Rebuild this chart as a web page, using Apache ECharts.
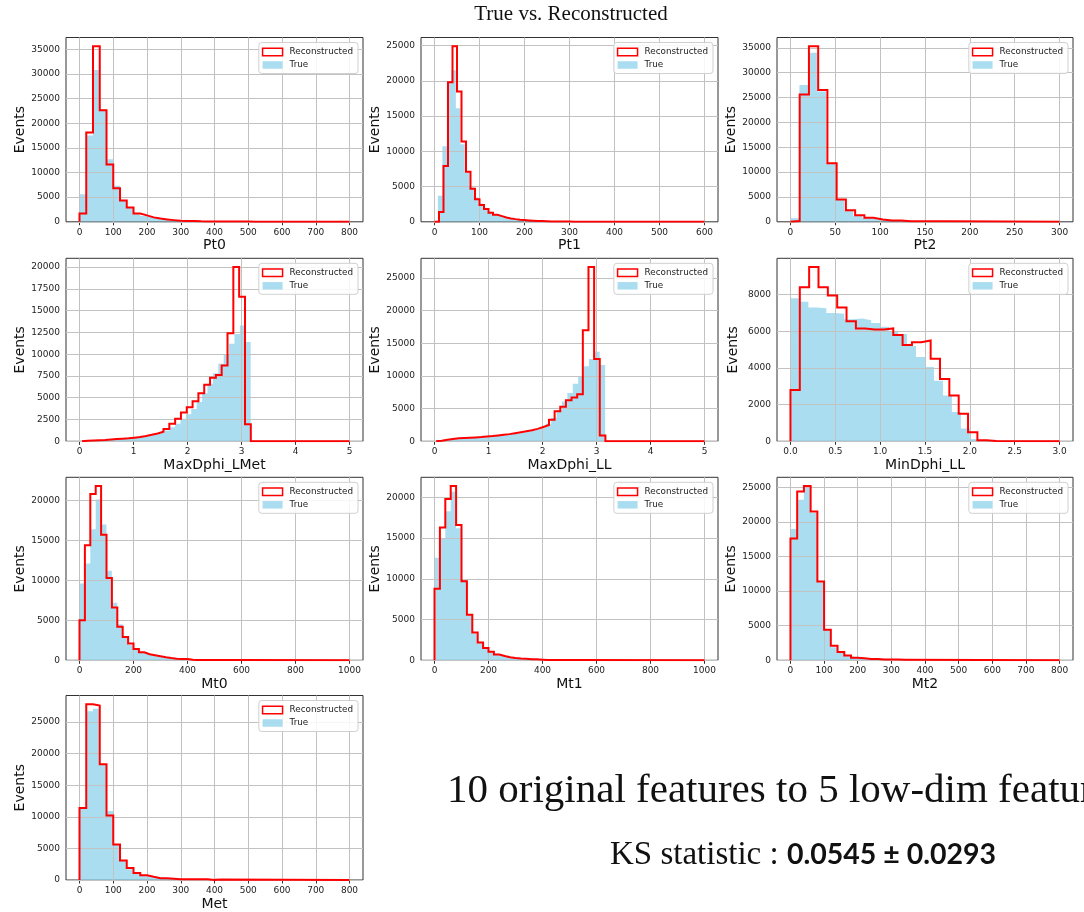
<!DOCTYPE html>
<html>
<head>
<meta charset="utf-8">
<script src="https://cdn.jsdelivr.net/npm/echarts@6/dist/echarts.min.js"></script>
<style>
  html, body { margin: 0; padding: 0; background: #ffffff; }
  #chart { width: 1084px; height: 912px; }
</style>
</head>
<body>
<div id="chart"></div>
<script>
// ---- feature names (x-axis titles) ----
const featureNames = ['Pt0', 'Pt1', 'Pt2', 'MaxDphi_LMet', 'MaxDphi_LL', 'MinDphi_LL', 'Mt0', 'Mt1', 'Mt2', 'Met'];

// ---- histogram counts: true sample (filled bars) ----
const pt0True = [5600, 17500, 30800, 22800, 12700, 7300, 4400, 2800, 1700, 1200, 850, 600, 430, 300, 220, 160, 120, 90, 70, 50, 40, 30, 22, 16, 12, 8, 5, 3, 2, 1];
const pt1True = [3700, 10700, 19800, 21500, 16100, 11000, 7000, 4900, 3500, 2600, 1900, 1450, 1100, 850, 650, 500, 400, 320, 250, 200, 160, 130, 100, 80, 60, 50, 40, 30, 25, 20, 15, 10];
const pt2True = [700, 27500, 34000, 26200, 11700, 4600, 2200, 1200, 750, 450, 300, 200, 140, 100, 70, 50, 35, 25, 18, 12, 8, 5, 3, 2, 1];
const maxDphiLMetTrue = [30, 50, 80, 110, 150, 190, 230, 280, 340, 400, 480, 580, 700, 850, 1000, 1250, 1600, 2000, 2600, 3100, 3700, 4500, 5500, 6600, 7800, 8900, 10000, 11200, 12300, 13300, 11400];
const maxDphiLLTrue = [200, 300, 350, 400, 450, 500, 560, 620, 700, 750, 800, 900, 1000, 1100, 1200, 1350, 1500, 1650, 1900, 2200, 2700, 3600, 4800, 6100, 7400, 8800, 10000, 11500, 12600, 13700, 11700];
const minDphiLLTrue = [7800, 7600, 7300, 7250, 7000, 6950, 6650, 6700, 6600, 6450, 6250, 6000, 5850, 5200, 4600, 4050, 3300, 2500, 1600, 700, 120, 10];
const mt0True = [9600, 12100, 16400, 20100, 17000, 11200, 7200, 4500, 2800, 1900, 1300, 950, 700, 560, 450, 350, 260, 190, 150, 120, 90, 70, 50, 40, 30, 20, 15, 10, 5, 3];
const mt1True = [12600, 15000, 18300, 20700, 16200, 9900, 5500, 3300, 2100, 1500, 1000, 700, 500, 380, 280, 210, 160, 120, 90, 70, 50, 35, 25, 15, 10, 5];
const mt2True = [19000, 23200, 25000, 21300, 11300, 4500, 1900, 1100, 650, 380, 250, 180, 130, 90, 60, 40, 25, 15, 10, 5];
const metTrue = [11400, 26700, 27100, 18200, 10900, 5700, 3000, 1700, 1000, 650, 420, 300, 200, 140, 100, 70, 50, 35, 25, 18, 12, 8, 5, 3];

// ---- histogram counts: reconstructed sample (step outline) ----
const pt0Reco = [1700, 18100, 35600, 22600, 11600, 6800, 4300, 2900, 1700, 1300, 900, 650, 480, 340, 220, 170, 140, 90, 80, 70, 60, 50, 50, 40, 40, 30];
const pt1Reco = [0, 1400, 7900, 19800, 24900, 18500, 11400, 7100, 4700, 3200, 2400, 1800, 1300, 1000, 800, 600, 480, 380, 300, 240, 190, 150, 120, 100, 80, 60, 50, 40, 30, 25, 20, 15, 10, 10, 5, 5, 5];
const pt2Reco = [150, 25600, 35300, 26500, 11800, 4500, 2300, 1300, 800, 450, 260, 240, 120, 120, 120, 120, 120];
const maxDphiLMetReco = [50, 80, 120, 150, 200, 250, 300, 350, 420, 500, 600, 750, 900, 1100, 1400, 2000, 2600, 3300, 3900, 4600, 5500, 6500, 7300, 7600, 8700, 12400, 20000, 16600, 1950];
const maxDphiLLReco = [100, 250, 350, 450, 500, 550, 600, 650, 750, 800, 900, 1000, 1100, 1250, 1400, 1550, 1700, 1900, 2200, 2500, 3300, 4600, 5300, 6300, 6700, 7200, 17000, 26700, 12600, 900];
const minDphiLLReco = [2800, 8400, 9500, 8400, 7950, 7300, 6550, 6150, 6100, 6100, 6150, 5800, 5250, 5400, 5500, 4500, 3400, 2500, 1500, 500, 60, 10];
const mt0Reco = [5000, 14400, 20800, 21800, 15700, 10300, 6600, 4200, 2900, 2100, 1400, 1000, 750, 620, 500, 380, 280, 200, 150, 150, 80, 50, 40, 40, 40, 40, 40, 40, 30];
const mt1Reco = [8800, 16300, 19800, 21400, 16600, 9700, 5600, 3400, 2200, 1500, 1050, 700, 520, 380, 290, 220, 190, 140, 120, 80, 40, 40, 40, 40, 40, 30];
const mt2Reco = [17600, 24400, 25200, 21500, 11400, 4400, 2100, 1200, 700, 380, 280, 200, 200, 120, 100, 100, 80];
const metReco = [11400, 27800, 27600, 18300, 10200, 5600, 3100, 1900, 1100, 750, 500, 280, 280, 200, 100, 100, 100, 100, 100, 20, 60];

const trueCounts = [pt0True, pt1True, pt2True, maxDphiLMetTrue, maxDphiLLTrue, minDphiLLTrue, mt0True, mt1True, mt2True, metTrue];
const recoCounts = [pt0Reco, pt1Reco, pt2Reco, maxDphiLMetReco, maxDphiLLReco, minDphiLLReco, mt0Reco, mt1Reco, mt2Reco, metReco];

// ---- bin edges (first edge and bin width) ----
const trueBinStart = [0, 7.5, 0, 0.07, 0.06, 0, 0, 0, 0, 0];
const trueBinWidth = [20, 10, 10, 0.1, 0.1, 0.1, 20, 20, 20, 20];
const recoBinStart = [0, 0, 0, 0.046, 0.03, 0, 0, 0, 0, 0];
const recoBinWidth = [20, 10, 10.3, 0.1078, 0.1045, 0.1042, 20, 20, 20, 20];

// ---- histogram range of each feature ----
const histLow  = [0, 0, 0, 0, 0, 0, 0, 0, 0, 0];
const histHigh = [800, 600, 300, 5, 5, 3, 1000, 1000, 800, 800];

// ---- tick values ----
const xTicks = [
  [0, 100, 200, 300, 400, 500, 600, 700, 800],
  [0, 100, 200, 300, 400, 500, 600],
  [0, 50, 100, 150, 200, 250, 300],
  [0, 1, 2, 3, 4, 5],
  [0, 1, 2, 3, 4, 5],
  [0, 0.5, 1, 1.5, 2, 2.5, 3],
  [0, 200, 400, 600, 800, 1000],
  [0, 200, 400, 600, 800, 1000],
  [0, 100, 200, 300, 400, 500, 600, 700, 800],
  [0, 100, 200, 300, 400, 500, 600, 700, 800]
];
const xTickDecimals = [0, 0, 0, 0, 0, 1, 0, 0, 0, 0];
const yTicks = [
  [0, 5000, 10000, 15000, 20000, 25000, 30000, 35000],
  [0, 5000, 10000, 15000, 20000, 25000],
  [0, 5000, 10000, 15000, 20000, 25000, 30000, 35000],
  [0, 2500, 5000, 7500, 10000, 12500, 15000, 17500, 20000],
  [0, 5000, 10000, 15000, 20000, 25000],
  [0, 2000, 4000, 6000, 8000],
  [0, 5000, 10000, 15000, 20000],
  [0, 5000, 10000, 15000, 20000],
  [0, 5000, 10000, 15000, 20000, 25000],
  [0, 5000, 10000, 15000, 20000, 25000]
];

// ---- text ----
const figureTitle = 'True vs. Reconstructed';
const summaryLine = '10 original features to 5 low-dim features';
const ksLabel = 'KS statistic : ';
const ksValue = '0.0545 ± 0.0293';

// ---- layout of the 4x3 panel grid ----
const colLeft = [66, 421, 777];
const colWidth = [297, 297, 296];
const rowTop = [37.5, 258.3, 477.3, 695.5];
const rowHeight = [184.3, 183, 183, 184.5];
const legendRight = [726, 371, 16];

const FONT = 'DejaVu Sans';
const BLUE = 'rgba(135,206,235,0.7)';
const GRID_COLOR = '#c2c2c2';

// outline of a histogram as a polyline through the bin corners
function stepPoints(start, width, counts, endX) {
  const pts = [[start, 0]];
  counts.forEach((c, i) => {
    pts.push([start + i * width, c]);
    pts.push([start + (i + 1) * width, c]);
  });
  const last = start + counts.length * width;
  pts.push([last, 0]);
  if (endX > last) pts.push([endX, 0]);
  return pts;
}

const grids = [], xAxes = [], yAxes = [], series = [], legends = [];

featureNames.forEach((name, i) => {
  const col = i % 3, row = Math.floor(i / 3);
  grids.push({
    left: colLeft[col], top: rowTop[row], width: colWidth[col], height: rowHeight[row],
    show: true, borderColor: '#333', borderWidth: 1, backgroundColor: 'transparent',
    containLabel: false, outerBoundsMode: 'none'
  });

  const lo = histLow[i], hi = histHigh[i], pad = 0.05 * (hi - lo);
  const maxCount = Math.max(Math.max(...trueCounts[i]), Math.max(...recoCounts[i]));
  const dec = xTickDecimals[i];

  xAxes.push({
    type: 'value', gridIndex: i, min: lo - pad, max: hi + pad,
    name: name, nameLocation: 'middle', nameGap: 17,
    nameTextStyle: { fontFamily: FONT, fontSize: 14, color: '#111' },
    axisLine: { show: false },
    axisTick: { show: true, length: 3.5, lineStyle: { color: '#333', width: 1 }, customValues: xTicks[i] },
    axisLabel: {
      show: true, margin: 6, fontFamily: FONT, fontSize: 9, color: '#222',
      customValues: xTicks[i], formatter: v => Number(v).toFixed(dec)
    },
    splitLine: { show: false }
  });
  yAxes.push({
    type: 'value', gridIndex: i, min: 0, max: maxCount * 1.05,
    name: 'Events', nameLocation: 'middle', nameGap: 37,
    nameTextStyle: { fontFamily: FONT, fontSize: 14, color: '#111' },
    axisLine: { show: false },
    axisTick: { show: true, length: 3.5, lineStyle: { color: '#333', width: 1 }, customValues: yTicks[i] },
    axisLabel: {
      show: true, margin: 6, fontFamily: FONT, fontSize: 9, color: '#222',
      customValues: yTicks[i], formatter: v => String(Math.round(v))
    },
    splitLine: { show: false }
  });

  const gridLines = xTicks[i].map(v => ({ xAxis: v })).concat(yTicks[i].map(v => ({ yAxis: v })));

  series.push({
    type: 'line', name: 'True', xAxisIndex: i, yAxisIndex: i,
    data: stepPoints(trueBinStart[i], trueBinWidth[i], trueCounts[i]),
    showSymbol: false, symbol: 'none', silent: true, animation: false, z: 1,
    lineStyle: { width: 0, opacity: 0 },
    areaStyle: { color: BLUE, opacity: 1 },
    markLine: {
      silent: true, animation: false, symbol: ['none', 'none'], z: 2,
      label: { show: false }, emphasis: { disabled: true },
      lineStyle: { color: GRID_COLOR, width: 1, type: 'solid' },
      data: gridLines
    }
  });
  series.push({
    type: 'line', name: 'Reconstructed', xAxisIndex: i, yAxisIndex: i,
    data: stepPoints(recoBinStart[i], recoBinWidth[i], recoCounts[i], hi),
    showSymbol: false, symbol: 'none', silent: true, animation: false, z: 3,
    lineStyle: { color: '#ff0000', width: 2, join: 'miter' }
  });

  legends.push({
    orient: 'vertical', right: legendRight[col], top: rowTop[row] + 5,
    selectedMode: false, itemWidth: 20, itemHeight: 7.5, itemGap: 4,
    padding: [5, 5, 4, 3],
    borderColor: '#d0d0d0', borderWidth: 1, borderRadius: 3,
    backgroundColor: 'rgba(255,255,255,0.85)',
    textStyle: { fontFamily: FONT, fontSize: 8.8, color: '#222', padding: [0, 0, 0, 2] },
    data: [
      { name: 'Reconstructed', icon: 'rect', itemStyle: { color: '#ffffff', borderColor: '#ff0000', borderWidth: 1.5 } },
      { name: 'True', icon: 'rect', itemStyle: { color: BLUE, borderWidth: 0 } }
    ]
  });
});

const chart = echarts.init(document.getElementById('chart'), null, { renderer: 'canvas' });
chart.setOption({
  animation: false,
  backgroundColor: '#ffffff',
  grid: grids,
  xAxis: xAxes,
  yAxis: yAxes,
  legend: legends,
  series: series,
  graphic: [
    {
      type: 'text', x: 571, y: 14,
      style: { text: figureTitle, fontFamily: 'Liberation Serif', fontSize: 21, fill: '#111', align: 'center', verticalAlign: 'middle' }
    },
    {
      type: 'text', x: 447, y: 791,
      style: { text: summaryLine, fontFamily: 'Liberation Serif', fontSize: 41, fill: '#111', align: 'left', verticalAlign: 'middle' }
    },
    {
      type: 'text', x: 610, y: 855,
      style: {
        text: ksLabel + '{b|' + ksValue + '}',
        fontFamily: 'Liberation Serif', fontSize: 33, fill: '#111', align: 'left', verticalAlign: 'middle',
        rich: { b: { fontFamily: 'Lato', fontWeight: 'bold', fontSize: 28.5, fill: '#111' } }
      }
    }
  ]
});
</script>
</body>
</html>
